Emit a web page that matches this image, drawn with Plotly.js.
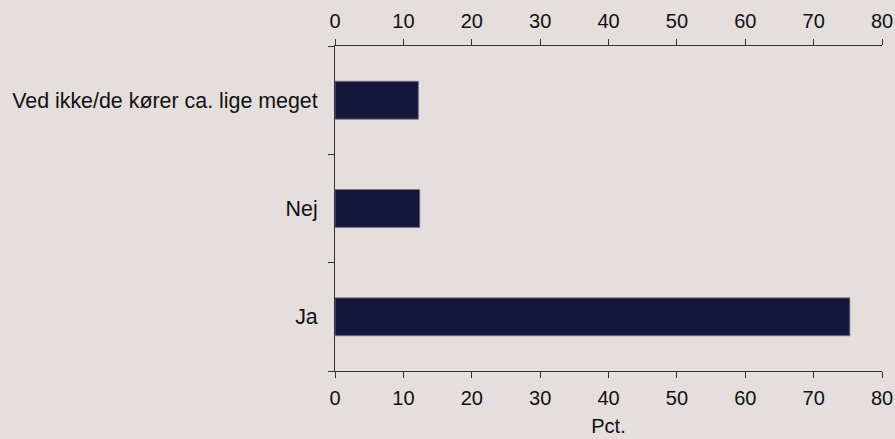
<!DOCTYPE html>
<html>
<head>
<meta charset="utf-8">
<script src="https://cdn.plot.ly/plotly-3.0.1.min.js"></script>
<style>html,body{margin:0;padding:0;background:#E4DEDC;}</style>
</head>
<body>
<div id="chart" style="width:895px;height:439px;"></div>
<script>
const categories = ["Ja", "Nej", "Ved ikke/de kører ca. lige meget"];
const values = [75.3, 12.4, 12.2];
const xTicks = [0, 10, 20, 30, 40, 50, 60, 70, 80];
const xTitle = "Pct.";

const bg = "#E4DEDC";
const fam = "Liberation Sans, Arial, sans-serif";
const xfont = {family: fam, size: 20, color: "#111"};
const yfont = {family: fam, size: 21.4, color: "#111"};

const data = [{
  type: "bar",
  orientation: "h",
  x: values,
  y: categories,
  width: 0.35,
  marker: {color: "#16163C", line: {color: "#77778A", width: 0.8}},
  hoverinfo: "none"
}];

const layout = {
  width: 895, height: 439,
  paper_bgcolor: bg, plot_bgcolor: bg,
  font: xfont,
  margin: {l: 335, r: 13, t: 46, b: 68},
  showlegend: false,
  xaxis: {
    range: [0, 80], tickvals: xTicks, ticktext: xTicks.map(String),
    showgrid: false, zeroline: false,
    showline: true, linecolor: "#333", linewidth: 1,
    ticks: "outside", ticklen: 6, tickcolor: "#333", tickwidth: 1,
    tickfont: xfont, ticklabelstandoff: 3,
    title: {text: xTitle, font: xfont, standoff: 10}
  },
  xaxis2: {
    overlaying: "x", side: "top", matches: "x",
    range: [0, 80], tickvals: xTicks, ticktext: xTicks.map(String),
    showgrid: false, zeroline: false,
    showline: true, linecolor: "#333", linewidth: 1,
    ticks: "outside", ticklen: 6, tickcolor: "#333", tickwidth: 1,
    tickfont: xfont, ticklabelstandoff: 3
  },
  yaxis: {
    type: "category", categoryorder: "array", categoryarray: categories,
    showgrid: false, zeroline: false,
    showline: true, linecolor: "#333", linewidth: 1,
    ticks: "outside", tickson: "boundaries", ticklen: 6, tickcolor: "#333", tickwidth: 1,
    tickfont: yfont, ticklabelstandoff: 12
  }
};

data.push({type: "scatter", x: [0], y: [categories[0]], xaxis: "x2", mode: "markers", marker: {opacity: 0}, hoverinfo: "none"});

Plotly.newPlot("chart", data, layout, {displayModeBar: false, staticPlot: true});
</script>
</body>
</html>
